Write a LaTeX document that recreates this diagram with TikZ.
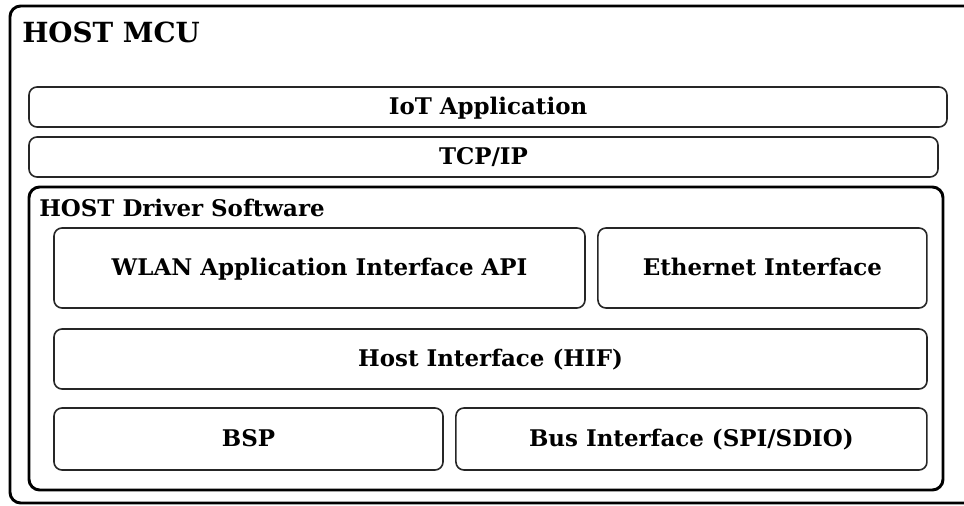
\documentclass[tikz,border=0pt]{standalone}
\usepackage{fontspec}
\setmainfont{DejaVu Serif}
\usetikzlibrary{positioning}

\begin{document}
\begin{tikzpicture}[x=0.75pt,y=-0.75pt,node distance=8.5pt,
    layer/.style={draw=black!85,line width=1.2pt,rounded corners=6pt,inner sep=0pt,text height=12.4pt,text depth=1.5pt,font=\bfseries\fontsize{17.2}{20}\selectfont},
    group/.style={draw,line width=2.2pt,rounded corners=8pt,inner sep=0pt},
    caption/.style={anchor=base west,inner sep=0pt,font=\bfseries\fontsize{17.2}{20}\selectfont}]
    \useasboundingbox (0,0) rectangle (964,506);
    \clip (0,0) rectangle (964,506);

    % outer frame, its right side runs off the page
    \node[group,minimum width=735pt,minimum height=372.75pt] (mcu) at (500,254.5) {};
    \node[caption,font=\bfseries\fontsize{20.8}{25}\selectfont] (mcutitle) at (22,43) {HOST MCU};

    \node[layer,minimum width=688.5pt,minimum height=30pt] (iot) at (488,107) {IoT Application};
    \node[layer,minimum width=681.75pt,minimum height=30pt] (tcp) at (483.5,157) {TCP/IP};

    % driver software block
    \node[group,minimum width=685.5pt,minimum height=227.25pt] (drv) at (486,338.5) {};
    \node[caption] (drvtitle) at (39,217) {HOST Driver Software};

    \node[layer,minimum width=398.25pt,minimum height=60pt] (wlan) at (319.5,268) {WLAN Application Interface API};
    \node[layer,minimum width=246.75pt,minimum height=60pt] (eth) [right=of wlan] {Ethernet Interface};

    \node[layer,minimum width=654.75pt,minimum height=45pt] (hif) at (490.5,359) {Host Interface (HIF)};

    \node[layer,minimum width=291.75pt,minimum height=46.5pt] (bsp) at (248.5,439) {BSP};
    \node[layer,minimum width=353.25pt,minimum height=46.5pt] (bus) [right=of bsp] {Bus Interface (SPI/SDIO)};
  \end{tikzpicture}
\end{document}
